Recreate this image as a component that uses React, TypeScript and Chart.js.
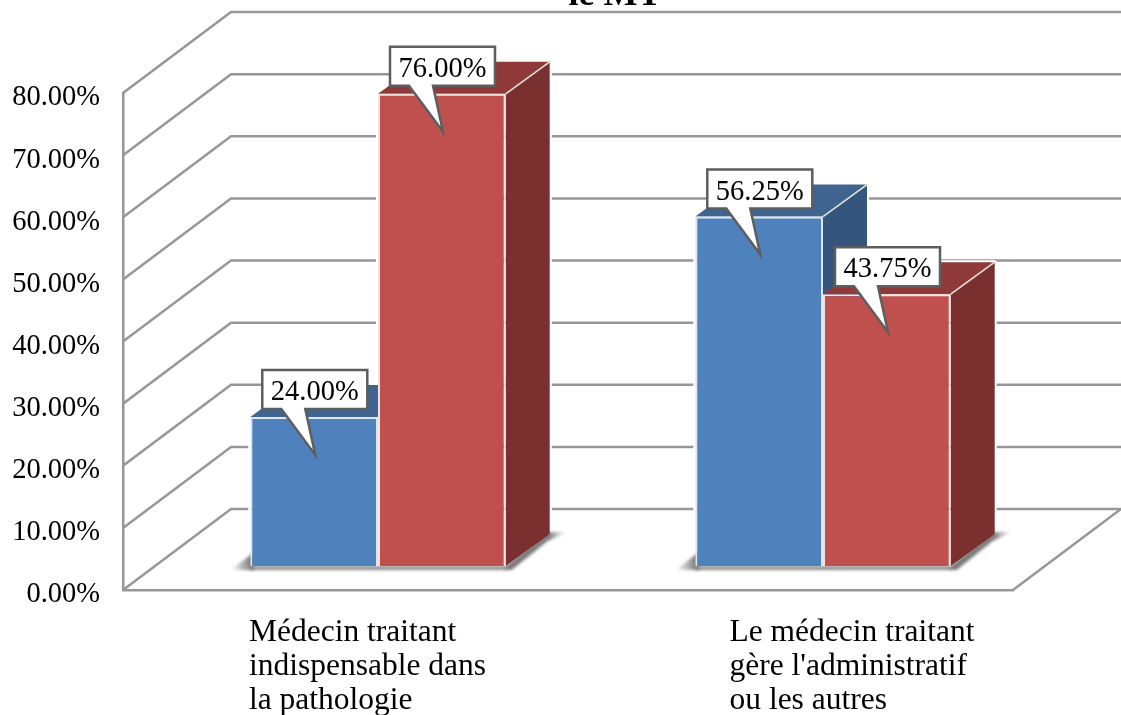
import React, { useEffect, useRef } from "react";
import { Chart, registerables } from "chart.js";

Chart.register(...registerables);

const titleText = "le MT";
const categories = ["Médecin traitant indispensable dans la pathologie", "Le médecin traitant gère l'administratif ou les autres"];
const categoryLines = [
  ["Médecin traitant", "indispensable dans", "la pathologie"],
  ["Le médecin traitant", "gère l'administratif", "ou les autres"],
];
const seriesBlue = [24, 56.25];
const seriesRed = [76, 43.75];
const blueFaces = { front: "#4f81bd", top: "#3e648f", side: "#34557c" };
const redFaces = { front: "#c0504d", top: "#8f3a38", side: "#7b3030" };
const faces = [blueFaces, redFaces];

const FONT = '"Liberation Serif", serif';
const GRID = "#979797";
const BACK_DX = 108, BACK_DY = 81;
const BAR_DX = 32.5, BAR_DY = 24;
const CAP_DX = 44, CAP_DY = 32;
const LABEL_X = [249, 729.5];

const poly = (ctx: CanvasRenderingContext2D, pts: number[][]) => {
  ctx.beginPath();
  pts.forEach((p, i) => (i ? ctx.lineTo(p[0], p[1]) : ctx.moveTo(p[0], p[1])));
  ctx.closePath();
};

const threeD = {
  id: "threeD",
  beforeDatasetsDraw(chart: any) {
    const { ctx, chartArea, scales } = chart;
    const { left, right } = chartArea;
    ctx.save();
    // walls and floor
    ctx.strokeStyle = GRID;
    ctx.lineWidth = 2.5;
    scales.y.ticks.forEach((t: any) => {
      const y = scales.y.getPixelForValue(t.value);
      ctx.beginPath();
      ctx.moveTo(left, y);
      ctx.lineTo(left + BACK_DX, y - BACK_DY);
      ctx.lineTo(chart.width + 2, y - BACK_DY);
      ctx.stroke();
    });
    const y0 = scales.y.getPixelForValue(0);
    ctx.beginPath();
    ctx.moveTo(right, y0);
    ctx.lineTo(right + BACK_DX, y0 - BACK_DY);
    ctx.stroke();

    // floor shadow and depth faces of each bar pair, back to front
    categories.forEach((_, c) => {
      const a = chart.getDatasetMeta(0).data[c];
      const b = chart.getDatasetMeta(1).data[c];
      const l = a.x - a.width / 2 + BAR_DX;
      const r = b.x + b.width / 2 + BAR_DX;
      const base = a.base - BAR_DY;

      [a, b].forEach((el: any) => {
        const x0 = el.x - el.width / 2 + BAR_DX;
        const x1 = el.x + el.width / 2 + BAR_DX;
        const yt = el.y - BAR_DY;
        const yb = el.base - BAR_DY;
        ctx.lineJoin = "round";
        ctx.strokeStyle = "#ffffff";
        ctx.lineWidth = 4;
        poly(ctx, [[x0, yt], [x0 + CAP_DX, yt - CAP_DY], [x1 + CAP_DX, yt - CAP_DY], [x1 + CAP_DX, yb - CAP_DY], [x1, yb], [x0, yb]]);
        ctx.stroke();
      });

      ctx.save();
      ctx.filter = "blur(1.5px)";
      const grad = ctx.createLinearGradient(l - 20, 0, l + 2, 0);
      grad.addColorStop(0, "rgba(130,130,130,0)");
      grad.addColorStop(1, "rgba(115,115,115,1)");
      ctx.fillStyle = grad;
      poly(ctx, [[l - 20, base + 4], [l + 4, base - 14], [l + 4, base + 4]]);
      ctx.fill();
      ctx.fillStyle = "#8f8f8f";
      poly(ctx, [[l, base], [r, base], [r, base + 4], [l, base + 4]]);
      ctx.fill();
      const g2 = ctx.createLinearGradient(r, 0, r + CAP_DX + 18, 0);
      g2.addColorStop(0, "rgba(120,120,120,1)");
      g2.addColorStop(0.7, "rgba(120,120,120,0.95)");
      g2.addColorStop(1, "rgba(170,170,170,0)");
      ctx.fillStyle = g2;
      poly(ctx, [[r - 2, base + 4], [r + 6, base + 4], [r + CAP_DX - 2, base - CAP_DY + 7], [r + CAP_DX + 18, base - CAP_DY - 2], [r + CAP_DX - 2, base - CAP_DY - 2], [r, base]]);
      ctx.fill();
      ctx.restore();

      [a, b].forEach((el: any, i: number) => {
        const x0 = el.x - el.width / 2 + BAR_DX;
        const x1 = el.x + el.width / 2 + BAR_DX;
        const yt = el.y - BAR_DY;
        const yb = el.base - BAR_DY;
        const top = [[x0, yt], [x0 + CAP_DX, yt - CAP_DY], [x1 + CAP_DX, yt - CAP_DY], [x1, yt]];
        const side = [[x1, yt], [x1 + CAP_DX, yt - CAP_DY], [x1 + CAP_DX, yb - CAP_DY], [x1, yb]];
        ctx.fillStyle = faces[i].top;
        poly(ctx, top);
        ctx.fill();
        ctx.fillStyle = faces[i].side;
        poly(ctx, side);
        ctx.fill();
        ctx.strokeStyle = "#e8e3e3";
        ctx.lineWidth = 1.5;
        ctx.beginPath();
        ctx.moveTo(x1, yt);
        ctx.lineTo(x1 + CAP_DX, yt - CAP_DY);
        ctx.stroke();
      });
    });
    ctx.restore();
    // the library's bars stand inside the floor, not on its front edge
    ctx.save();
    ctx.translate(BAR_DX, -BAR_DY);
  },
  afterDatasetsDraw(chart: any) {
    const { ctx } = chart;
    ctx.restore();
    ctx.save();
    // callouts
    [0, 1].forEach((d) => {
      const meta = chart.getDatasetMeta(d);
      meta.data.forEach((el: any, i: number) => {
        const v = chart.data.datasets[d].data[i] as number;
        const x = el.x - el.width / 2 + BAR_DX;
        const y = el.y - BAR_DY;
        poly(ctx, [
          [x + 12, y - 47], [x + 117, y - 47], [x + 117, y - 8], [x + 55, y - 8],
          [x + 65, y + 38], [x + 31, y - 8], [x + 12, y - 8],
        ]);
        ctx.fillStyle = "#ffffff";
        ctx.fill();
        ctx.strokeStyle = "#5e5e5e";
        ctx.lineWidth = 2.5;
        ctx.lineJoin = "miter";
        ctx.stroke();
        ctx.fillStyle = "#000000";
        ctx.font = `28.5px ${FONT}`;
        ctx.textAlign = "center";
        ctx.textBaseline = "alphabetic";
        ctx.fillText(`${v.toFixed(2)}%`, x + 64.5, y - 17);
      });
    });
    // category labels
    ctx.fillStyle = "#000000";
    ctx.font = `31.5px ${FONT}`;
    ctx.textAlign = "left";
    ctx.textBaseline = "alphabetic";
    categoryLines.forEach((lines, c) => {
      lines.forEach((line, j) => ctx.fillText(line, LABEL_X[c], 641 + j * 34));
    });
    // title, cut by the top edge
    ctx.font = `bold 36px ${FONT}`;
    ctx.textAlign = "center";
    ctx.fillText(titleText, 615, 5);
    ctx.restore();
  },
};

export default function App() {
  const ref = useRef<HTMLCanvasElement>(null);
  useEffect(() => {
    const chart = new Chart(ref.current!, {
      type: "bar",
      data: {
        labels: categories,
        datasets: [
          { label: "Série 1", data: seriesBlue, backgroundColor: blueFaces.front, borderColor: "#dfe6ef", borderWidth: 2, categoryPercentage: 0.574, barPercentage: 1 },
          { label: "Série 2", data: seriesRed, backgroundColor: redFaces.front, borderColor: "#efe3e3", borderWidth: 2, categoryPercentage: 0.574, barPercentage: 1 },
        ],
      },
      options: {
        responsive: false,
        animation: false,
        layout: { padding: { top: 93, right: 108, left: 0, bottom: 0 } },
        plugins: { legend: { display: false }, tooltip: { enabled: false }, title: { display: false } },
        scales: {
          x: {
            grid: { display: false },
            border: { color: GRID, width: 2.5 },
            ticks: { display: false },
            afterFit(s: any) { s.height = 125; s.paddingLeft = 0; s.paddingRight = 0; },
          },
          y: {
            min: 0,
            max: 80,
            grid: { display: false, drawTicks: false },
            border: { color: GRID, width: 2.5 },
            ticks: {
              stepSize: 10,
              padding: 23,
              labelOffset: 5,
              color: "#000000",
              font: { family: "Liberation Serif", size: 28.5 },
              callback: (v: any) => `${Number(v).toFixed(2)}%`,
            },
            afterFit(s: any) { s.width = 123; s.paddingTop = 0; s.paddingBottom = 0; },
          },
        },
      },
      plugins: [threeD],
    } as any);
    return () => chart.destroy();
  }, []);
  return (
    <div style={{ position: "absolute", left: 0, top: 0 }}>
      <canvas ref={ref} width={1121} height={715} style={{ display: "block" }} />
    </div>
  );
}
